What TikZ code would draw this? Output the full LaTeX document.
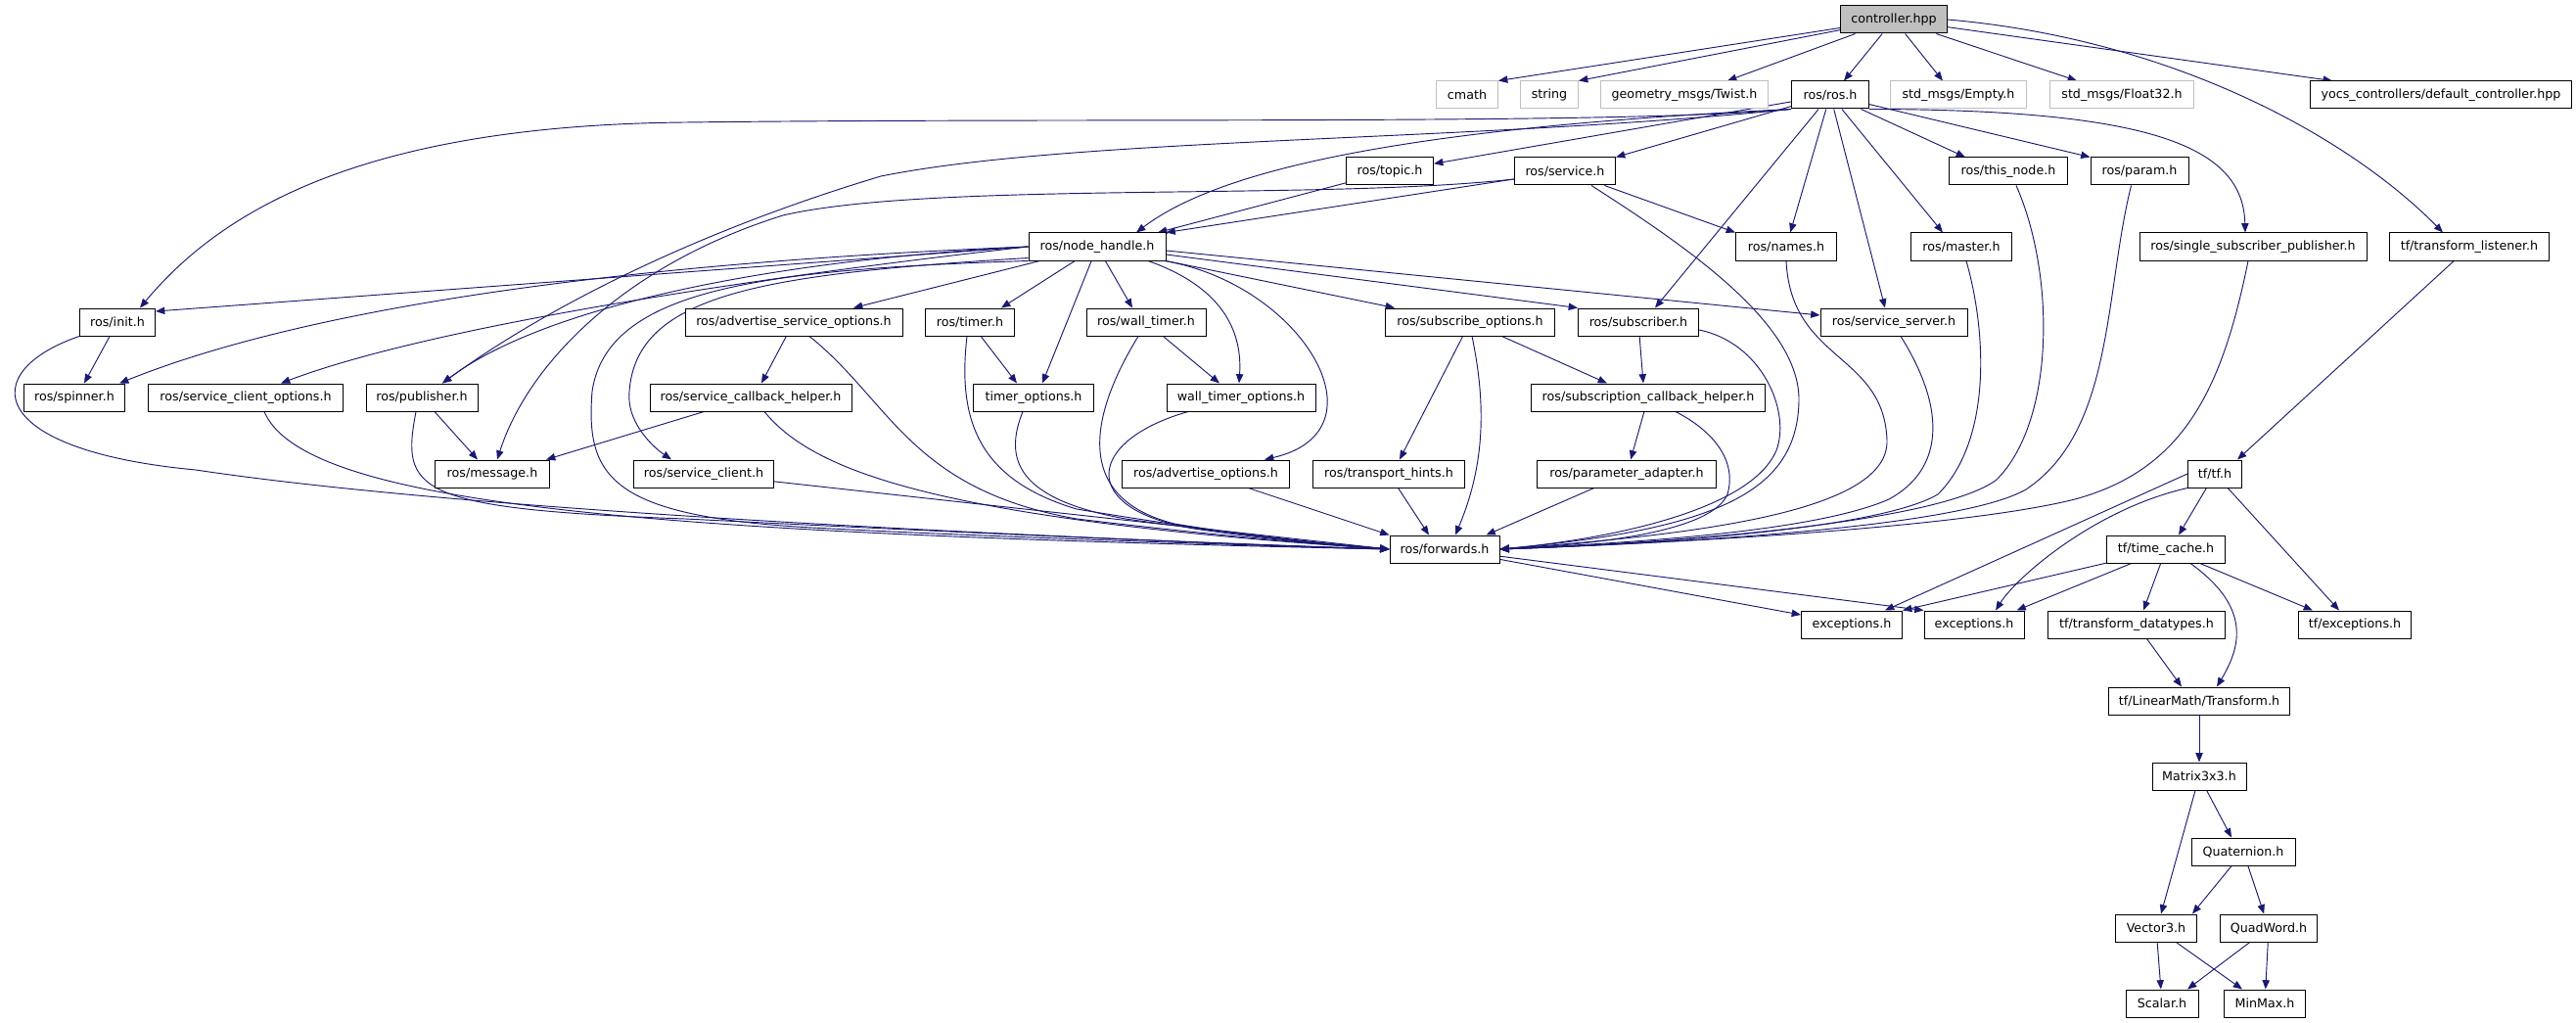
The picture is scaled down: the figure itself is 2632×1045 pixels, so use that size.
\documentclass[tikz,border=0pt]{standalone}
\usepackage{fontspec}
\setmainfont{DejaVu Sans}
\usetikzlibrary{arrows.meta,calc,backgrounds}
\definecolor{edgeblue}{HTML}{191970}
\definecolor{extgray}{HTML}{BFBFBF}

\begin{document}
\begin{tikzpicture}[x=0.75pt,y=-0.75pt,font=\fontsize{9.5}{11}\selectfont,
  hdr/.style={draw=black,fill=white,line width=0.75pt,minimum height=21pt,inner sep=0pt},
  ext/.style={hdr,draw=extgray},
  wd/.style={minimum width=#1*0.75pt},
  dep/.style={draw=edgeblue,line width=0.7pt,-{Triangle[length=7pt,width=5.5pt]}}]
\useasboundingbox (0,0) rectangle (2632,1045);

\node[hdr,fill=extgray,wd=109] (ctrl) at (1935,20) {controller.hpp};

\node[ext,wd=63] (cmath) at (1499,97) {cmath};
\node[ext,wd=59] (string) at (1583,97) {string};
\node[ext,wd=171] (twist) at (1721,97) {geometry\_msgs/Twist.h};
\node[hdr,wd=79] (rosh) at (1870,97) {ros/ros.h};
\node[ext,wd=139] (empty) at (2001,97) {std\_msgs/Empty.h};
\node[ext,wd=147] (float) at (2168,97) {std\_msgs/Float32.h};
\node[hdr,wd=267] (yocs) at (2494,97) {yocs\_controllers/default\_controller.hpp};

\node[hdr,wd=89] (topic) at (1420,175) {ros/topic.h};
\node[hdr,wd=103] (service) at (1599,175) {ros/service.h};
\node[hdr,wd=121] (thisnode) at (2052,175) {ros/this\_node.h};
\node[hdr,wd=100] (param) at (2186,175) {ros/param.h};

\node[hdr,wd=140] (nh) at (1121,252) {ros/node\_handle.h};
\node[hdr,wd=103] (names) at (1825,252) {ros/names.h};
\node[hdr,wd=103] (master) at (2004,252) {ros/master.h};
\node[hdr,wd=232] (ssp) at (2302,252) {ros/single\_subscriber\_publisher.h};
\node[hdr,wd=163] (tfl) at (2523,252) {tf/transform\_listener.h};

\node[hdr,wd=77] (init) at (120,329) {ros/init.h};
\node[hdr,wd=222] (aso) at (811,329) {ros/advertise\_service\_options.h};
\node[hdr,wd=91] (timer) at (991,329) {ros/timer.h};
\node[hdr,wd=122] (wtimer) at (1171,329) {ros/wall\_timer.h};
\node[hdr,wd=173] (subopt) at (1502,329) {ros/subscribe\_options.h};
\node[hdr,wd=123] (sub) at (1674,329) {ros/subscriber.h};
\node[hdr,wd=150] (ssrv) at (1935,329) {ros/service\_server.h};

\node[hdr,wd=103] (spin) at (76,406) {ros/spinner.h};
\node[hdr,wd=199] (sco) at (251,406) {ros/service\_client\_options.h};
\node[hdr,wd=114] (pub) at (431,406) {ros/publisher.h};
\node[hdr,wd=206] (sch) at (767,406) {ros/service\_callback\_helper.h};
\node[hdr,wd=123] (topt) at (1056,406) {timer\_options.h};
\node[hdr,wd=152] (wtopt) at (1268,406) {wall\_timer\_options.h};
\node[hdr,wd=239] (scbh) at (1684,406) {ros/subscription\_callback\_helper.h};

\node[hdr,wd=117] (msg) at (503,484) {ros/message.h};
\node[hdr,wd=143] (sclient) at (719,484) {ros/service\_client.h};
\node[hdr,wd=171] (aopt) at (1232,484) {ros/advertise\_options.h};
\node[hdr,wd=155] (thints) at (1419,484) {ros/transport\_hints.h};
\node[hdr,wd=183] (padapt) at (1662,484) {ros/parameter\_adapter.h};
\node[hdr,wd=55] (tf) at (2263,484) {tf/tf.h};

\node[hdr,wd=112] (fwd) at (1476,561) {ros/forwards.h};
\node[hdr,wd=121] (tcache) at (2213,561) {tf/time\_cache.h};

\node[hdr,wd=103] (excA) at (1892,638) {exceptions.h};
\node[hdr,wd=102] (excB) at (2017,638) {exceptions.h};
\node[hdr,wd=181] (tdt) at (2183,638) {tf/transform\_datatypes.h};
\node[hdr,wd=115] (tfexc) at (2406,638) {tf/exceptions.h};

\node[hdr,wd=185] (trans) at (2247,716) {tf/LinearMath/Transform.h};
\node[hdr,wd=96] (mat) at (2247,793) {Matrix3x3.h};
\node[hdr,wd=106] (quat) at (2292,870) {Quaternion.h};
\node[hdr,wd=83] (vec) at (2203,948) {Vector3.h};
\node[hdr,wd=99] (quad) at (2318,948) {QuadWord.h};
\node[hdr,wd=74] (scalar) at (2209,1025) {Scalar.h};
\node[hdr,wd=83] (minmax) at (2314,1025) {MinMax.h};

\begin{scope}[on background layer]
% controller.hpp
\draw[dep] (ctrl) -- (cmath.north east);
\draw[dep] (ctrl) -- (string.north east);
\draw[dep] (ctrl) -- ($(twist.north)+(44,0)$);
\draw[dep] (ctrl) -- ($(rosh.north)+(14,0)$);
\draw[dep] (ctrl) -- ($(empty.north)-(16,0)$);
\draw[dep] (ctrl) -- ($(float.north)-(46,0)$);
\draw[dep] (ctrl) -- ($(yocs.north west)+(23,0)$);
\draw[dep] (ctrl.east) .. controls (2220,40) and (2400,140) .. ($(tfl.north)-(27,0)$);
% ros/ros.h
\draw[dep] (rosh.south west) .. controls (1650,128) and (1100,120) .. (700,125)
  .. controls (380,128) and (230,210) .. ([xshift=-12pt]init.north east);
\draw[dep] (rosh) -- (topic);
\draw[dep] (rosh) -- (service.north east);
\draw[dep] (rosh.south west) .. controls (1450,130) and (1250,170) .. ($(nh.north)+(40,0)$);
\draw[dep] (rosh.south west) .. controls (1500,145) and (1100,140) .. (900,180)
  .. controls (700,240) and (550,320) .. ($(pub.north)+(21,0)$);
\draw[dep] (rosh) -- ($(sub.north)+(17,0)$);
\draw[dep] (rosh) -- (names);
\draw[dep] (rosh) -- ($(ssrv.north)-(9,0)$);
\draw[dep] (rosh) -- ($(master.north)-(19,0)$);
\draw[dep] (rosh) -- ($(thisnode.north west)+(17,0)$);
\draw[dep] (rosh) -- (param.north west);
\draw[dep] (rosh.south east) .. controls (2200,112) and (2292,150) .. ($(ssp.north)-(8,0)$);
% topic, service
\draw[dep] (topic) -- ($(nh.north)+(62,0)$);
\draw[dep] (service) -- (nh.north east);
\draw[dep] ($(service.west)+(0,8)$) .. controls (1350,205) and (950,185) .. (800,220)
  .. controls (640,270) and (540,370) .. ($(msg.north)+(5,0)$);
\draw[dep] (service) -- (names.north west);
\draw[dep] ($(service.south east)+(-25,0)$) .. controls (1720,250) and (1840,330) .. (1838,410)
  .. controls (1836,500) and (1760,540) .. (fwd.east);
% node_handle
\draw[dep] (nh.west) -- ($(init.east)+(0,-11)$);
\draw[dep] (nh.west) .. controls (600,270) and (300,320) .. ($(spin.north east)-(6,0)$);
\draw[dep] (nh.west) .. controls (800,280) and (450,330) .. ($(sco.north)+(36,0)$);
\draw[dep] (nh.west) .. controls (800,265) and (560,310) .. ($(pub.north)+(21,0)$);
\draw[dep] (nh.south west) .. controls (780,275) and (620,295) .. (605,400)
  .. controls (598,490) and (625,530) .. (850,540)
  .. controls (1000,548) and (1300,558) .. (fwd.west);
\draw[dep] ($(nh.south west)+(0,-3)$) .. controls (780,280) and (650,300) .. (643,400)
  .. controls (640,430) and (665,455) .. ($(sclient.north)-(33,0)$);
\draw[dep] ($(nh.south west)+(12,0)$) -- ($(aso.north)+(61,0)$);
\draw[dep] (nh) -- ($(timer.north)+(32,0)$);
\draw[dep] (nh) -- ($(topt.north)+(9,0)$);
\draw[dep] (nh) -- ($(wtimer.north)-(14,0)$);
\draw[dep] ($(nh.south)+(52,0)$) .. controls (1240,290) and (1270,330) .. ($(wtopt.north)-(2,0)$);
\draw[dep] ($(nh.south east)+(-2,0)$) .. controls (1330,290) and (1420,440) .. ($(aopt.north)+(60,0)$);
\draw[dep] (nh.south east) -- ($(subopt.north west)+(10,0)$);
\draw[dep] ($(nh.east)+(0,8)$) -- (sub.north west);
\draw[dep] ($(nh.east)+(0,4)$) -- ($(ssrv.west)+(0,-7)$);
% left part
\draw[dep] (init) -- ($(spin.north)+(10,0)$);
\draw[dep] (init.south west) .. controls (-25,380) and (-15,460) .. (200,480)
  .. controls (500,525) and (1100,550) .. (fwd.west);
\draw[dep] ($(sco.south)+(19,0)$) .. controls (310,515) and (650,545) .. (fwd.west);
\draw[dep] (pub) -- ($(msg.north)-(15,0)$);
\draw[dep] ($(pub.south)-(6,0)$) .. controls (410,500) and (420,520) .. (700,530)
  .. controls (1000,545) and (1300,558) .. (fwd.west);
\draw[dep] (aso) -- ($(sch.north)+(11,0)$);
\draw[dep] ($(aso.south)+(16,0)$) .. controls (910,410) and (930,500) .. (1100,530)
  .. controls (1250,548) and (1350,556) .. (fwd.west);
\draw[dep] (sch) -- ($(msg.north east)-(4,0)$);
\draw[dep] ($(sch.south)+(14,0)$) .. controls (830,480) and (950,530) .. (fwd.west);
\draw[dep] (sclient) -- (fwd.west);
% timers and options
\draw[dep] (timer) -- ($(topt.north)-(17,0)$);
\draw[dep] ($(timer.south)-(3,0)$) .. controls (978,430) and (1000,490) .. (1100,520)
  .. controls (1250,545) and (1350,555) .. (fwd.west);
\draw[dep] ($(topt.south)-(11,0)$) .. controls (1025,470) and (1040,510) .. (1150,530)
  .. controls (1280,548) and (1360,556) .. (fwd.west);
\draw[dep] (wtimer) -- ($(wtopt.north)-(22,0)$);
\draw[dep] ($(wtimer.south)-(8,0)$) .. controls (1110,430) and (1100,510) .. (1200,535)
  .. controls (1300,552) and (1380,558) .. (fwd.west);
\draw[dep] ($(wtopt.south)-(54,0)$) .. controls (1110,450) and (1100,520) .. (1220,540)
  .. controls (1300,552) and (1380,558) .. (fwd.west);
\draw[dep] (aopt) -- (fwd.north west);
\draw[dep] (thints) -- ($(fwd.north)-(16,0)$);
% subscribe side
\draw[dep] (subopt) -- ($(thints.north)+(11,0)$);
\draw[dep] ($(subopt.south)+(2,0)$) .. controls (1520,420) and (1515,480) .. ($(fwd.north)+(11,0)$);
\draw[dep] (subopt) -- ($(scbh.north)-(42,0)$);
\draw[dep] (sub) -- ($(scbh.north)-(5,0)$);
\draw[dep] ($(sub.east)+(0,8)$) .. controls (1800,350) and (1830,420) .. (1815,460)
  .. controls (1790,520) and (1650,550) .. (fwd.east);
\draw[dep] (scbh) -- (padapt);
\draw[dep] ($(scbh.south)+(28,0)$) .. controls (1750,440) and (1775,470) .. (1765,505)
  .. controls (1750,540) and (1650,555) .. (fwd.east);
\draw[dep] (padapt) -- ($(fwd.north east)-(14,0)$);
% right part into forwards
\draw[dep] (names.south) .. controls (1830,370) and (1925,360) .. (1928,450)
  .. controls (1930,520) and (1750,545) .. (fwd.east);
\draw[dep] ($(ssrv.south)+(7,0)$) .. controls (1990,420) and (1985,480) .. (1930,510)
  .. controls (1850,545) and (1650,555) .. (fwd.east);
\draw[dep] ($(master.south)+(5,0)$) .. controls (2030,340) and (2035,450) .. (1980,505)
  .. controls (1920,540) and (1700,555) .. (fwd.east);
\draw[dep] ($(thisnode.south)+(8,0)$) .. controls (2100,280) and (2100,430) .. (2040,490)
  .. controls (1980,535) and (1700,555) .. (fwd.east);
\draw[dep] ($(param.south west)+(42,0)$) .. controls (2150,300) and (2160,440) .. (2070,500)
  .. controls (2000,540) and (1700,555) .. (fwd.east);
\draw[dep] ($(ssp.south)-(5,0)$) .. controls (2270,400) and (2230,480) .. (2120,510)
  .. controls (2000,540) and (1700,555) .. (fwd.east);
\draw[dep] (fwd) -- ($(excA.west)+(0,-10)$);
\draw[dep] (fwd) -- (excB.north west);
% tf
\draw[dep] (tfl) -- ($(tf.north east)-(5,0)$);
\draw[dep] (tf.west) -- ($(excA.north)+(34,0)$);
\draw[dep] (tf.south west) .. controls (2140,520) and (2060,590) .. ($(excB.north)+(22,0)$);
\draw[dep] (tf) -- ($(tcache.north)+(13,0)$);
\draw[dep] (tf) -- ($(tfexc.north)-(16,0)$);
\draw[dep] (tcache) -- (excA.north east);
\draw[dep] (tcache) -- ($(excB.north east)-(8,0)$);
\draw[dep] (tcache) -- ($(tdt.north)+(7,0)$);
\draw[dep] (tcache) -- ($(tfexc.north)-(43,0)$);
\draw[dep] ($(tcache.south)+(25,0)$) .. controls (2300,620) and (2290,660) .. ($(trans.north)+(18,0)$);
\draw[dep] (tdt) -- ($(trans.north)-(18,0)$);
\draw[dep] (trans) -- (mat);
\draw[dep] (mat) -- ($(vec.north)+(5,0)$);
\draw[dep] (mat) -- ($(quat.north)-(12,0)$);
\draw[dep] (quat) -- ($(vec.north)+(37,0)$);
\draw[dep] (quat) -- (quad);
\draw[dep] (vec) -- (scalar);
\draw[dep] (vec) -- ($(minmax.north)-(23,0)$);
\draw[dep] (quad) -- ($(scalar.north)+(26,0)$);
\draw[dep] (quad) -- (minmax);
\end{scope}
\end{tikzpicture}
\end{document}
